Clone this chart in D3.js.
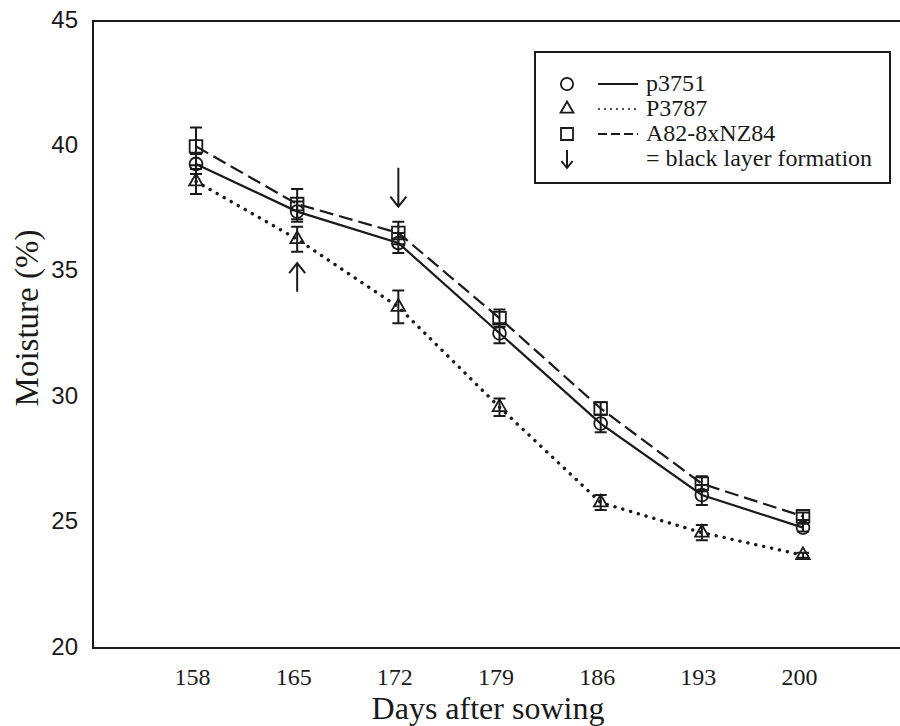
<!DOCTYPE html>
<html>
<head>
<meta charset="utf-8">
<script src="https://cdn.jsdelivr.net/npm/d3@7"></script>
<style>
  body { margin: 0; background: #fff; }
  .serif { font-family: "Liberation Serif", "DejaVu Serif", serif; }
</style>
</head>
<body>
<svg id="chart" width="900" height="726"></svg>
<script>
// days after sowing
const days = [158, 165, 172, 179, 186, 193, 200];

// moisture (%) per hybrid, with error bar half-widths
const p3751 = [39.3, 37.4, 36.15, 32.55, 28.95, 26.1, 24.8];
const p3751Err = [0.4, 0.4, 0.4, 0.4, 0.35, 0.4, 0.15];
const p3787 = [38.6, 36.3, 33.6, 29.6, 25.8, 24.6, 23.7];
const p3787Err = [0.5, 0.5, 0.65, 0.35, 0.3, 0.3, 0.1];
const a82 = [40.0, 37.7, 36.55, 33.15, 29.55, 26.55, 25.25];
const a82Err = [0.75, 0.6, 0.45, 0.35, 0.25, 0.3, 0.15];

const yTicks = [20, 25, 30, 35, 40, 45];

// black layer formation arrows: [day, from value, to value]
const blackLayer = [[172, 39.15, 37.6], [165, 34.2, 35.35]];

const series = [
    { name: 'p3751', values: p3751, err: p3751Err, symbol: d3.symbolCircle, size: 130, dash: null },
    { name: 'P3787', values: p3787, err: p3787Err, symbol: d3.symbolTriangle, size: 80, dash: '0.1,8' },
    { name: 'A82-8xNZ84', values: a82, err: a82Err, symbol: d3.symbolSquare, size: 160, dash: '14,6' }
];

const svg = d3.select('#chart');
const ink = '#1a1a1a';

const plot = { left: 93, right: 900 };
const x = d3.scaleLinear().domain([158, 200]).range([196, 803]);
const y = d3.scaleLinear().domain([20, 45]).range([648, 21]);

// frame: left, top and bottom (open on the right)
svg.append('path')
    .attr('d', 'M' + plot.right + ',' + y(45) + 'H' + plot.left + 'V' + y(20) + 'H' + plot.right)
    .attr('fill', 'none')
    .attr('stroke', ink)
    .attr('stroke-width', 2);

// axes (labels only)
const xAxis = svg.append('g')
    .attr('transform', 'translate(0,' + y(20) + ')')
    .call(d3.axisBottom(x).tickValues(days).tickSize(0).tickFormat(d3.format('d')));
xAxis.select('.domain').remove();
xAxis.selectAll('text')
    .attr('class', 'serif')
    .attr('font-size', 24)
    .attr('fill', ink)
    .attr('dx', -4)
    .attr('dy', 0)
    .attr('y', 37);

const yAxis = svg.append('g')
    .attr('transform', 'translate(78,0)')
    .call(d3.axisLeft(y).tickValues(yTicks).tickSize(0));
yAxis.select('.domain').remove();
yAxis.selectAll('text')
    .attr('font-family', '"Liberation Sans", Arial, sans-serif')
    .attr('font-size', 24)
    .attr('fill', ink)
    .attr('x', 0)
    .attr('dy', '0.25em');

// axis titles
svg.append('text')
    .attr('class', 'serif')
    .attr('x', 488).attr('y', 719)
    .attr('text-anchor', 'middle')
    .attr('font-size', 32)
    .attr('fill', ink)
    .text('Days after sowing');

svg.append('text')
    .attr('class', 'serif')
    .attr('transform', 'translate(38,318) rotate(-90)')
    .attr('text-anchor', 'middle')
    .attr('font-size', 33)
    .attr('fill', ink)
    .text('Moisture (%)');

// lines
const line = d3.line().x((d, i) => x(days[i])).y(d => y(d));
series.forEach(s => {
    svg.append('path')
        .datum(s.values)
        .attr('d', line)
        .attr('fill', 'none')
        .attr('stroke', ink)
        .attr('stroke-width', s.dash === '0.1,8' ? 3.4 : 2.2)
        .attr('stroke-linecap', s.dash === '0.1,8' ? 'round' : 'butt')
        .attr('stroke-dasharray', s.dash);
});

// error bars and markers
series.forEach(s => {
    const g = svg.append('g');
    const pts = s.values.map((v, i) => ({ day: days[i], v: v, e: s.err[i] }));
    g.selectAll('path.err')
        .data(pts)
        .enter().append('path')
        .attr('class', 'err')
        .attr('d', d => {
            const cx = x(d.day), y0 = y(d.v + d.e), y1 = y(d.v - d.e);
            return 'M' + (cx - 6) + ',' + y0 + 'H' + (cx + 6) +
                'M' + cx + ',' + y0 + 'V' + y1 +
                'M' + (cx - 6) + ',' + y1 + 'H' + (cx + 6);
        })
        .attr('fill', 'none')
        .attr('stroke', ink)
        .attr('stroke-width', 2);
    g.selectAll('path.mark')
        .data(pts)
        .enter().append('path')
        .attr('class', 'mark')
        .attr('transform', d => 'translate(' + x(d.day) + ',' + y(d.v) + ')')
        .attr('d', d3.symbol().type(s.symbol).size(s.size))
        .attr('fill', 'none')
        .attr('stroke', ink)
        .attr('stroke-width', 1.8);
});

// black layer arrows
function arrow(g, x0, yFrom, yTo, head) {
    const dir = yTo > yFrom ? 1 : -1;
    g.append('path')
        .attr('d', 'M' + x0 + ',' + yFrom + 'V' + yTo +
            'M' + (x0 - head * 0.8) + ',' + (yTo - dir * head) + 'L' + x0 + ',' + yTo +
            'L' + (x0 + head * 0.8) + ',' + (yTo - dir * head))
        .attr('fill', 'none')
        .attr('stroke', ink)
        .attr('stroke-width', 2);
}
blackLayer.forEach(a => arrow(svg, x(a[0]), y(a[1]), y(a[2]), 10));

// legend
const legend = svg.append('g');
legend.append('rect')
    .attr('x', 535).attr('y', 52)
    .attr('width', 355).attr('height', 131)
    .attr('fill', '#fff')
    .attr('stroke', ink)
    .attr('stroke-width', 2);

const legendDash = [null, '2,4', '9,4'];
series.forEach((s, i) => {
    const ly = 84 + i * 25;
    legend.append('path')
        .attr('transform', 'translate(567,' + ly + ')')
        .attr('d', d3.symbol().type(s.symbol).size(s.size * 0.9))
        .attr('fill', 'none')
        .attr('stroke', ink)
        .attr('stroke-width', 1.8);
    legend.append('line')
        .attr('x1', 598).attr('x2', 638)
        .attr('y1', ly).attr('y2', ly)
        .attr('stroke', ink)
        .attr('stroke-width', i === 1 ? 1.7 : 2)
        .attr('stroke-dasharray', legendDash[i]);
    legend.append('text')
        .attr('class', 'serif')
        .attr('x', 646).attr('y', ly + 7)
        .attr('font-size', 24)
        .attr('fill', ink)
        .text(s.name);
});
arrow(legend, 567, 150, 168, 7);
legend.append('text')
    .attr('class', 'serif')
    .attr('x', 646).attr('y', 166)
    .attr('font-size', 24)
    .attr('fill', ink)
    .text('= black layer formation');
</script>
</body>
</html>
